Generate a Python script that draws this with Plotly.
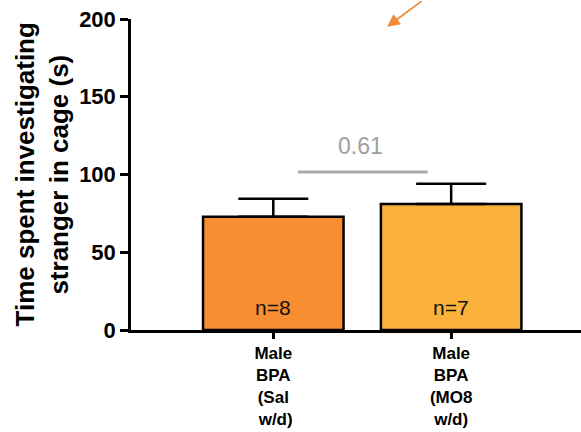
import plotly.graph_objects as go

categories = ["Male<br>BPA<br>(Sal<br>\u00a0w/d)", "Male<br>BPA<br>(MO8<br>w/d)"]
means = [72.9, 81.0]
sem = [11.5, 13.1]
n_labels = ["n=8", "n=7"]
colors = ["#F98D31", "#FBB23B"]
p_value_text = "0.61"
p_line_y = 101.6
y_ticks = [0, 50, 100, 150, 200]

FONT = "Liberation Sans, Arial"
xs = [0, 1]
fig = go.Figure()
fig.add_trace(go.Bar(
    x=xs, y=means, width=0.79,
    marker=dict(color=colors, line=dict(color="black", width=2.5)),
    error_y=dict(type="data", array=sem, arrayminus=[0, 0], symmetric=False,
                 color="black", thickness=2.5, width=35),
    showlegend=False, cliponaxis=False,
))

# sample sizes near bar bottoms
for xi, lab in zip(xs, n_labels):
    fig.add_annotation(x=xi, y=0, text=lab, showarrow=False, yanchor="middle",
                       yshift=23, font=dict(family=FONT, size=21, color="#111"))

# comparison line and p-value
fig.add_shape(type="line", x0=0.138, x1=0.868, y0=p_line_y, y1=p_line_y,
              line=dict(color="#ABABAB", width=3))
fig.add_annotation(x=0.489, y=p_line_y, text=p_value_text, showarrow=False,
                   yanchor="middle", yshift=26,
                   font=dict(family=FONT, size=23, color="#A0A0A0"))

# orange arrow at top
fig.add_annotation(x=0.64, y=195, ax=36, ay=-34, text="", showarrow=True,
                   arrowhead=2, arrowsize=1.4, arrowwidth=1.8, arrowcolor="#F08A35")

# y-axis title as two lines
fig.add_annotation(xref="paper", yref="paper", x=-0.2356, y=0.5, textangle=-90,
                   xanchor="center", yanchor="middle",
                   text="Time spent investigating", showarrow=False,
                   font=dict(family=FONT, size=26, color="black", weight="bold"))
fig.add_annotation(xref="paper", yref="paper", x=-0.162, y=0.5, textangle=-90,
                   xanchor="center", yanchor="middle",
                   text="stranger in cage (s)", showarrow=False,
                   font=dict(family=FONT, size=26, color="black", weight="bold"))

fig.update_layout(
    width=581, height=432,
    margin=dict(l=131, r=0, t=19, b=102),
    plot_bgcolor="white", paper_bgcolor="white",
    font=dict(family=FONT, color="black"),
    xaxis=dict(range=[-0.80, 1.73], tickvals=xs, ticktext=categories,
               showline=True, linecolor="black", linewidth=2.5,
               ticks="outside", ticklen=6, tickwidth=2.5, tickcolor="black",
               showgrid=False, zeroline=False, automargin=False,
               tickfont=dict(family=FONT, size=17, color="black", weight="bold")),
    yaxis=dict(range=[0, 200], tickvals=y_ticks,
               showline=True, linecolor="black", linewidth=2.5,
               ticks="outside", ticklen=8, tickwidth=2.5, tickcolor="black",
               showgrid=False, zeroline=False, automargin=False,
               tickfont=dict(family=FONT, size=22, color="black", weight="bold")),
)

fig.write_html("out.html")
